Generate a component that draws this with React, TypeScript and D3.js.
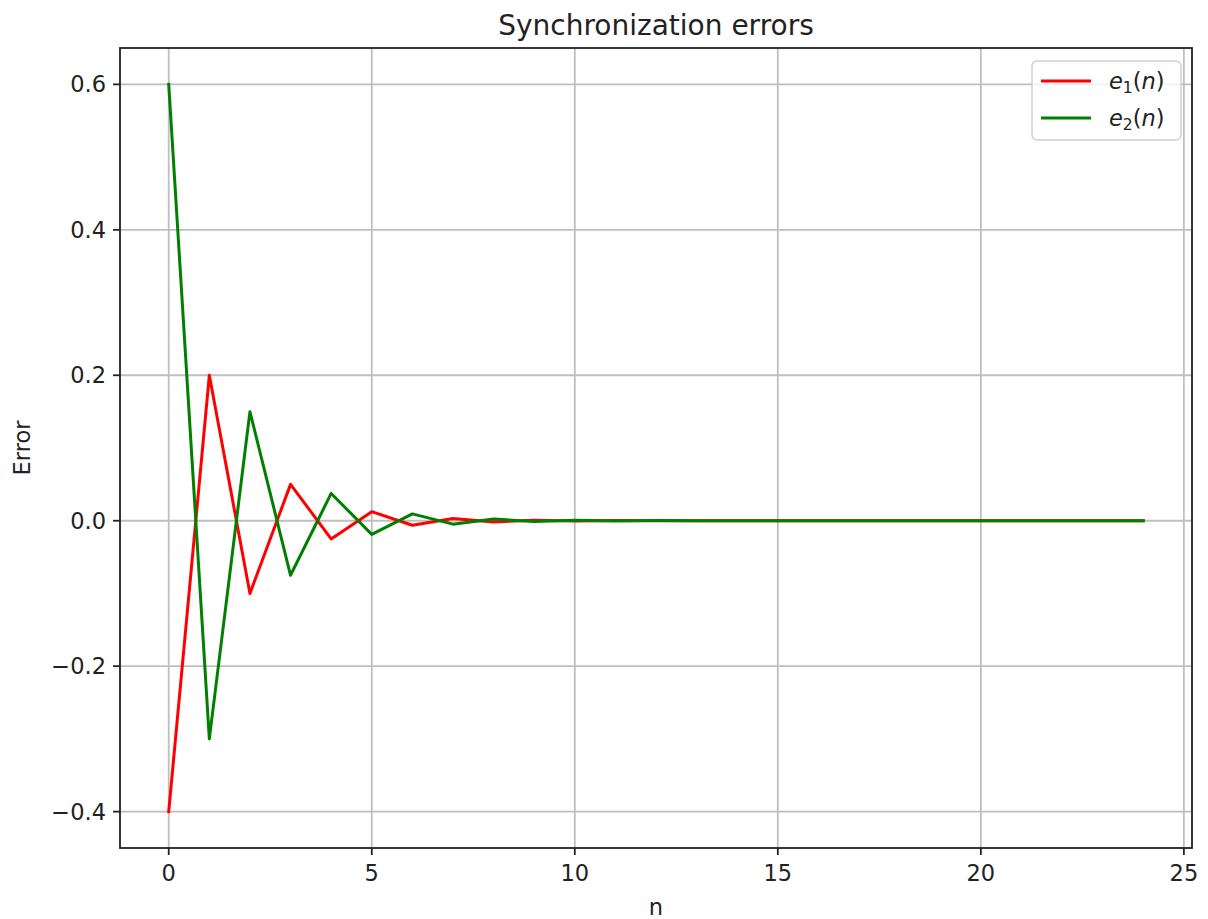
import React from "react";
import * as d3 from "d3";

// Time steps n = 0..24
const steps: number[] = d3.range(0, 25);

// Synchronization error e1(n)
const e1Values: number[] = [
  -0.4, 0.2, -0.1, 0.05, -0.025, 0.0125, -0.00625, 0.003125, -0.0016, 0.0008,
  -0.0004, 0.0002, -0.0001, 0.00005, -0.00002, 0.00001, 0, 0, 0, 0, 0, 0, 0, 0, 0,
];

// Synchronization error e2(n)
const e2Values: number[] = [
  0.6, -0.3, 0.15, -0.075, 0.0375, -0.01875, 0.009375, -0.0047, 0.0023, -0.0012,
  0.0006, -0.0003, 0.00015, -0.00007, 0.00004, -0.00002, 0.00001, 0, 0, 0, 0, 0, 0, 0, 0,
];

const xTicks: number[] = [0, 5, 10, 15, 20, 25];
const yTicks: number[] = [-0.4, -0.2, 0.0, 0.2, 0.4, 0.6];

const seriesNames: string[] = ["e1", "e2"];
const seriesColors: string[] = ["#ff0000", "#008000"];
const seriesSubscripts: string[] = ["1", "2"];

const W = 1208;
const H = 919;
const left = 120;
const right = 1192;
const top = 48;
const bottom = 848;

const FONT = "'DejaVu Sans', sans-serif";

export default function App() {
  const x = d3.scaleLinear().domain([-1.2, 25.2]).range([left, right]);
  const y = d3.scaleLinear().domain([-0.45, 0.65]).range([bottom, top]);

  const line = d3
    .line<[number, number]>()
    .x((d) => x(d[0]))
    .y((d) => y(d[1]));

  const series = [e1Values, e2Values].map((vals) =>
    steps.map((n, i) => [n, vals[i]] as [number, number])
  );

  const fmtY = (v: number) => {
    const s = Math.abs(v).toFixed(1);
    return v < 0 ? "\u2212" + s : s;
  };

  const legendX = 1032;
  const legendY = 61;
  const legendW = 149;
  const legendH = 79;

  return (
    <svg
      width={W}
      height={H}
      viewBox={`0 0 ${W} ${H}`}
      style={{ display: "block", position: "absolute", left: 0, top: 0, background: "#fff" }}
      fontFamily={FONT}
    >
      <rect x={0} y={0} width={W} height={H} fill="#fff" />
      <defs>
        <clipPath id="plot-clip">
          <rect x={left} y={top} width={right - left} height={bottom - top} />
        </clipPath>
      </defs>

      {/* grid */}
      <g stroke="#b0b0b0" strokeWidth={1.8} opacity={0.8}>
        {xTicks.map((t) => (
          <line key={"gx" + t} x1={x(t)} x2={x(t)} y1={top} y2={bottom} />
        ))}
        {yTicks.map((t) => (
          <line key={"gy" + t} x1={left} x2={right} y1={y(t)} y2={y(t)} />
        ))}
      </g>

      {/* series */}
      <g clipPath="url(#plot-clip)" fill="none" strokeWidth={3} strokeLinejoin="round" strokeLinecap="square">
        {series.map((pts, i) => (
          <path key={seriesNames[i]} d={line(pts) || ""} stroke={seriesColors[i]} />
        ))}
      </g>

      {/* spines */}
      <rect x={left} y={top} width={right - left} height={bottom - top} fill="none" stroke="#222" strokeWidth={1.8} />

      {/* x ticks */}
      <g>
        {xTicks.map((t) => (
          <g key={"xt" + t} transform={`translate(${x(t)},${bottom})`}>
            <line y1={0} y2={7} stroke="#222" strokeWidth={1.8} />
            <text y={33} textAnchor="middle" fontSize={22.5} fill="#222">
              {t}
            </text>
          </g>
        ))}
      </g>

      {/* y ticks */}
      <g>
        {yTicks.map((t) => (
          <g key={"yt" + t} transform={`translate(${left},${y(t)})`}>
            <line x1={0} x2={-7} stroke="#222" strokeWidth={1.8} />
            <text x={-14} dy="0.36em" textAnchor="end" fontSize={22.5} fill="#222">
              {fmtY(t)}
            </text>
          </g>
        ))}
      </g>

      {/* labels */}
      <text x={(left + right) / 2} y={35} textAnchor="middle" fontSize={28} fill="#222">
        Synchronization errors
      </text>
      <text x={(left + right) / 2} y={915} textAnchor="middle" fontSize={22.5} fill="#222">
        n
      </text>
      <text
        transform={`translate(30,${(top + bottom) / 2}) rotate(-90)`}
        textAnchor="middle"
        fontSize={22.5}
        fill="#222"
      >
        Error
      </text>

      {/* legend */}
      <g>
        <rect
          x={legendX}
          y={legendY}
          width={legendW}
          height={legendH}
          rx={5}
          fill="#fff"
          fillOpacity={0.8}
          stroke="#d0d0d0"
          strokeWidth={1.5}
        />
        {seriesNames.map((name, i) => {
          const ly = legendY + 20 + i * 37;
          return (
            <g key={"lg" + name}>
              <line x1={legendX + 9} x2={legendX + 59} y1={ly} y2={ly} stroke={seriesColors[i]} strokeWidth={3} />
              <text x={legendX + 77} y={ly + 8} fontSize={22.5} fill="#222">
                <tspan fontStyle="italic">e</tspan>
                <tspan fontSize={15.5} dy={4}>{seriesSubscripts[i]}</tspan>
                <tspan dy={-4}>(</tspan>
                <tspan fontStyle="italic">n</tspan>
                <tspan>)</tspan>
              </text>
            </g>
          );
        })}
      </g>
    </svg>
  );
}
